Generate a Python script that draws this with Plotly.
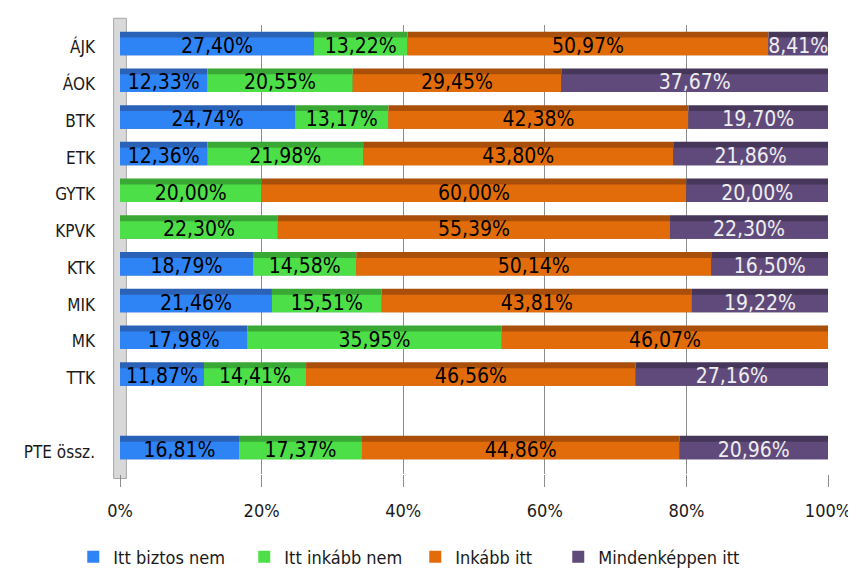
import plotly.graph_objects as go

# categories (blank row between TTK and PTE össz.)
cats = ['ÁJK', 'ÁOK', 'BTK', 'ETK', 'GYTK', 'KPVK', 'KTK', 'MIK', 'MK', 'TTK', ' ', 'PTE össz.']

biztos_nem = [27.40, 12.33, 24.74, 12.36, 0, 0, 18.79, 21.46, 17.98, 11.87, None, 16.81]
inkabb_nem = [13.22, 20.55, 13.17, 21.98, 20.00, 22.30, 14.58, 15.51, 35.95, 14.41, None, 17.37]
inkabb_itt = [50.97, 29.45, 42.38, 43.80, 60.00, 55.39, 50.14, 43.81, 46.07, 46.56, None, 44.86]
mindenkepp = [8.41, 37.67, 19.70, 21.86, 20.00, 22.30, 16.50, 19.22, 0, 27.16, None, 20.96]

names = ['Itt biztos nem', 'Itt inkább nem', 'Inkább itt', 'Mindenképpen itt']
front_cols = ['#2e83f5', '#4ddf47', '#e36c0a', '#604a7b']
top_cols = ['#2a62b8', '#3aa834', '#a94f0a', '#463659']
txt_cols = ['#000000', '#000000', '#000000', '#eeeeee']
# last entry sits in its own legend so its label is not cut by the fixed entry width
legend_ids = ['legend', 'legend', 'legend', 'legend2']

FONT = 'DejaVu Sans Condensed, Liberation Sans Narrow, Noto Sans'

series = [biztos_nem, inkabb_nem, inkabb_itt, mindenkepp]

def lbl(v):
    if v is None or v == 0:
        return ''
    return ('%.2f%%' % v).replace('.', ',')

fig = go.Figure()
base = [0 for v in biztos_nem]
labels = []
for i, s in enumerate(series):
    vals = [v if v is not None else 0 for v in s]
    # darker "top face" of the 3D bar
    fig.add_trace(go.Bar(
        y=cats, x=vals, base=base, orientation='h',
        offset=-0.43, width=0.64, marker=dict(color=top_cols[i], line=dict(width=0)),
        showlegend=False, hoverinfo='skip'))
    # front face
    fig.add_trace(go.Bar(
        y=cats, x=vals, base=base, orientation='h',
        offset=-0.27, width=0.48, name=names[i], legend=legend_ids[i],
        marker=dict(color=front_cols[i], line=dict(width=0))))
    labels.append(go.Scatter(
        y=cats, x=[b + v / 2 for b, v in zip(base, vals)], mode='text',
        text=[lbl(v) for v in s], textposition='middle center',
        textfont=dict(family=FONT, size=21, color=txt_cols[i]),
        showlegend=False, hoverinfo='skip', cliponaxis=False))
    base = [b + v for b, v in zip(base, vals)]

for t in labels:
    fig.add_trace(t)

# grey side wall of the 3D chart
fig.add_shape(type='rect', xref='paper', yref='paper', x0=-0.009, x1=0.009, y0=-0.01, y1=1.015,
              fillcolor='#d9d9d9', line=dict(color='#a6a6a6', width=1), layer='below')

legend_font = dict(size=18, family=FONT, color='#1a1a1a')

# page body has an 8px margin, so the figure is 8px smaller than the window
fig.update_layout(
    width=848, height=564,
    barmode='overlay',
    plot_bgcolor='white', paper_bgcolor='white',
    margin=dict(l=112, r=28, t=17, b=98, autoexpand=False),
    font=dict(family=FONT, size=18, color='#1a1a1a'),
    xaxis=dict(range=[0, 100], tickvals=[0, 20, 40, 60, 80, 100],
               ticktext=['0%', '20%', '40%', '60%', '80%', '100%'],
               showgrid=True, gridcolor='#8c8c8c', gridwidth=1, zeroline=False,
               automargin=False,
               ticks='outside', ticklen=12, tickcolor='#8c8c8c', ticklabelstandoff=8,
               tickfont=dict(size=18, family=FONT, color='#1a1a1a')),
    yaxis=dict(autorange='reversed', type='category', showgrid=False, automargin=False,
               tickfont=dict(size=17, family=FONT, color='#1a1a1a'), ticks='',
               ticklabelstandoff=24),
    legend=dict(orientation='h', x=-0.066, xanchor='left', y=-0.185, yanchor='middle',
                font=legend_font, traceorder='normal',
                entrywidth=126, entrywidthmode='pixels'),
    legend2=dict(orientation='h', x=0.619, xanchor='left', y=-0.185, yanchor='middle',
                 font=legend_font),
)

fig.write_html("out.html")
